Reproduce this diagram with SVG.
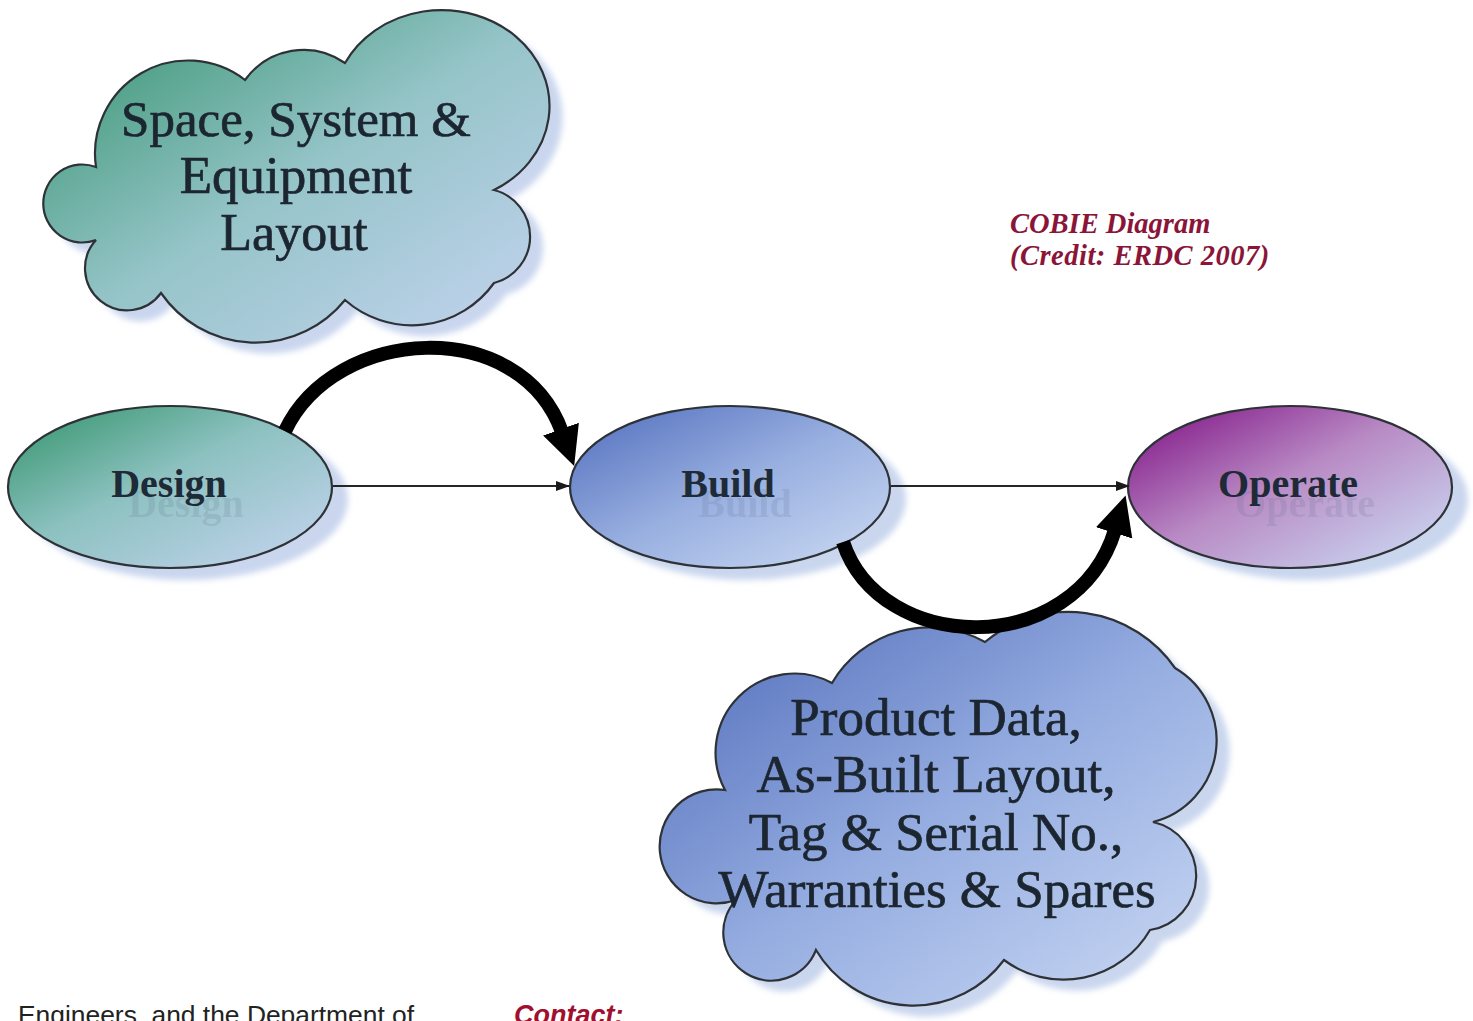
<svg xmlns="http://www.w3.org/2000/svg" width="1473" height="1021" viewBox="0 0 1473 1021">
  <defs>
    <style>
      .outline { stroke: #2e3236; stroke-width: 2.2; }
      .shadow { fill: #c9d6ee; filter: url(#soft); }
      .cloud-text { font-family: "Liberation Serif", "Times New Roman", serif; fill: #1c2631; stroke: #1c2631; stroke-width: 0.7; text-anchor: middle; }
      .label { font-family: "Liberation Serif", "Times New Roman", serif; font-size: 40px; font-weight: bold; fill: #1e2a36; text-anchor: middle; }
      .ghost { font-family: "Liberation Serif", "Times New Roman", serif; font-size: 40px; font-weight: bold; fill: #5a6c88; opacity: 0.16; text-anchor: middle; }
      .thin { stroke: #262626; stroke-width: 2; fill: none; }
      .heavy { stroke: #000; stroke-width: 14; fill: none; }
      .caption { font-family: "Liberation Serif", "Times New Roman", serif; font-size: 28.5px; font-weight: bold; font-style: italic; fill: #8a1538; }
    </style>
    <filter id="soft" x="-10%" y="-10%" width="120%" height="120%">
      <feGaussianBlur stdDeviation="3"/>
    </filter>
    <linearGradient id="gDesign" x1="0" y1="0" x2="1" y2="1">
      <stop offset="0" stop-color="#2f9266"/>
      <stop offset="0.45" stop-color="#8cc1c0"/>
      <stop offset="1" stop-color="#c8d5f2"/>
    </linearGradient>
    <linearGradient id="gBuild" x1="0" y1="0" x2="1" y2="1">
      <stop offset="0" stop-color="#4f6cbc"/>
      <stop offset="0.5" stop-color="#98afe0"/>
      <stop offset="1" stop-color="#cddbf3"/>
    </linearGradient>
    <linearGradient id="gOperate" x1="0.05" y1="0.1" x2="0.95" y2="0.95">
      <stop offset="0" stop-color="#861f8c"/>
      <stop offset="0.45" stop-color="#b88ac4"/>
      <stop offset="1" stop-color="#cbdaf3"/>
    </linearGradient>
    <linearGradient id="gCloudTop" x1="0" y1="0" x2="1" y2="1">
      <stop offset="0" stop-color="#2f9068"/>
      <stop offset="0.5" stop-color="#95c4c8"/>
      <stop offset="1" stop-color="#c6d4f2"/>
    </linearGradient>
    <linearGradient id="gCloudBottom" x1="0" y1="0" x2="1" y2="1">
      <stop offset="0" stop-color="#4d69b8"/>
      <stop offset="0.5" stop-color="#94ace0"/>
      <stop offset="1" stop-color="#ccdaf4"/>
    </linearGradient>
    <marker id="headSmall" viewBox="0 0 14 10" refX="13" refY="5" markerWidth="14" markerHeight="10" markerUnits="userSpaceOnUse" orient="auto">
      <path d="M0,0 L14,5 L0,10 z" fill="#1a1a1a"/>
    </marker>
    <marker id="headBig" viewBox="0 0 40 40" refX="3" refY="20" markerWidth="40" markerHeight="40" markerUnits="userSpaceOnUse" orient="auto">
      <path d="M0,1 L39,20 L0,39 z" fill="#000"/>
    </marker>
    <path id="cloudTopShape" d="M96,167 A93,93 0 0 1 245,80 A72,72 0 0 1 345,63 A108,96 0 1 1 494,190 A48,48 0 0 1 494,283 A101,101 0 0 1 345,300 A115,115 0 0 1 161,293 A42,42 0 1 1 96,240 A39,39 0 1 1 96,167 Z"/>
    <path id="cloudBottomShape" d="M725,790 A79,79 0 0 1 832,683 A113,113 0 0 1 985,642 A130,130 0 0 1 1175,668 A84,84 0 0 1 1153,822 A55,55 0 0 1 1150,930 A100,100 0 0 1 1004,960 A113,113 0 0 1 816,950 A48,48 0 1 1 736,900 A57,57 0 1 1 725,790 Z"/>
  </defs>

  <rect x="0" y="0" width="1473" height="1021" fill="#ffffff"/>

  <!-- information clouds -->
  <g id="cloud-layout">
    <use href="#cloudTopShape" class="shadow" transform="translate(13,11)"/>
    <use href="#cloudTopShape" class="outline" fill="url(#gCloudTop)"/>
    <text class="cloud-text" font-size="51" x="296" y="136">Space, System &amp;</text>
    <text class="cloud-text" font-size="53" x="296" y="193">Equipment</text>
    <text class="cloud-text" font-size="52" x="294" y="250">Layout</text>
  </g>

  <g id="cloud-handover">
    <use href="#cloudBottomShape" class="shadow" transform="translate(13,11)"/>
    <use href="#cloudBottomShape" class="outline" fill="url(#gCloudBottom)"/>
    <text class="cloud-text" font-size="53" x="936" y="735">Product Data,</text>
    <text class="cloud-text" font-size="53" x="936" y="792">As-Built Layout,</text>
    <text class="cloud-text" font-size="53" x="936" y="850">Tag &amp; Serial No.,</text>
    <text class="cloud-text" font-size="53" x="937" y="907">Warranties &amp; Spares</text>
  </g>

  <!-- lifecycle phases -->
  <g id="node-design">
    <ellipse cx="186" cy="499" rx="162" ry="81" class="shadow"/>
    <ellipse cx="170" cy="487" rx="162" ry="81" class="outline" fill="url(#gDesign)"/>
    <text class="ghost" x="186" y="517">Design</text>
    <text class="label" x="169" y="497">Design</text>
  </g>

  <g id="node-build">
    <ellipse cx="746" cy="499" rx="160" ry="81" class="shadow"/>
    <ellipse cx="730" cy="487" rx="160" ry="81" class="outline" fill="url(#gBuild)"/>
    <text class="ghost" x="745" y="517">Build</text>
    <text class="label" x="728" y="497">Build</text>
  </g>

  <g id="node-operate">
    <ellipse cx="1306" cy="499" rx="162" ry="81" class="shadow"/>
    <ellipse cx="1290" cy="487" rx="162" ry="81" class="outline" fill="url(#gOperate)"/>
    <text class="ghost" x="1305" y="517">Operate</text>
    <text class="label" x="1288" y="497">Operate</text>
  </g>

  <!-- flow connectors -->
  <g id="connectors">
    <path class="heavy" d="M285,431 C335,325 520,315 562,432" marker-end="url(#headBig)"/>
    <path class="heavy" d="M843,542 C880,655 1075,660 1115,530" marker-end="url(#headBig)"/>
    <line class="thin" x1="333" y1="486" x2="569" y2="486" marker-end="url(#headSmall)"/>
    <line class="thin" x1="891" y1="486" x2="1129" y2="486" marker-end="url(#headSmall)"/>
  </g>

  <!-- caption -->
  <g id="caption">
    <text class="caption" x="1010" y="233">COBIE Diagram</text>
    <text class="caption" x="1010" y="265" letter-spacing="0.5">(Credit: ERDC 2007)</text>
  </g>

  <!-- running page text below the figure -->
  <g id="page-text">
    <text x="18" y="1024" font-family="Liberation Sans, Arial, sans-serif" font-size="26.4" fill="#222">Engineers, and the Department of</text>
    <text x="514" y="1024" font-family="Liberation Sans, Arial, sans-serif" font-size="27" font-weight="bold" font-style="italic" fill="#a0102e">Contact:</text>
  </g>
</svg>
